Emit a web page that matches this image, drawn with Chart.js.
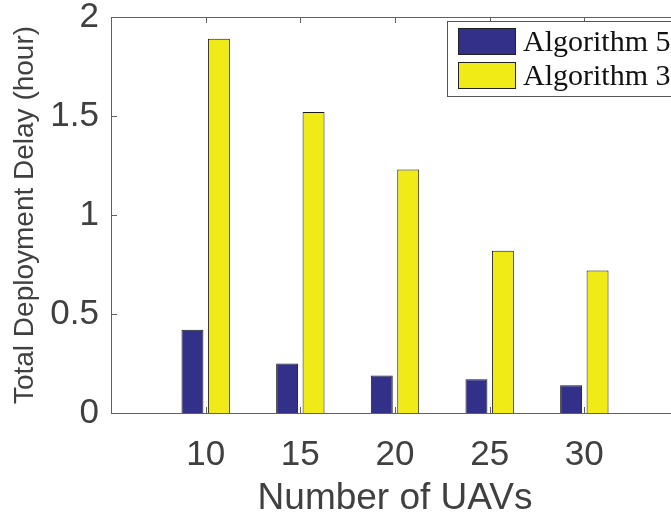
<!DOCTYPE html>
<html>
<head>
<meta charset="utf-8">
<script src="https://cdn.jsdelivr.net/npm/chart.js@4"></script>
<style>
  html, body { margin: 0; padding: 0; background: #fff; overflow: hidden; }
  #wrap { width: 700px; height: 518px; }
</style>
</head>
<body>
<div id="wrap"><canvas id="c" width="700" height="518"></canvas></div>
<script>
// ---- data ----
const categories = [10, 15, 20, 25, 30];
const seriesNames = ['Algorithm 5', 'Algorithm 3'];
const algorithm5 = [0.42, 0.25, 0.19, 0.17, 0.14];
const algorithm3 = [1.89, 1.52, 1.23, 0.82, 0.72];
const yTickValues = [0, 0.5, 1, 1.5, 2];
const yTickLabels = ['0', '0.5', '1', '1.5', '2'];
const xTickLabels = ['10', '15', '20', '25', '30'];
const xTitle = 'Number of UAVs';
const yTitle = 'Total Deployment Delay (hour)';

const colors = ['#33308A', '#F0EA17'];
const axisColor = '#606060';
const textColor = '#404040';

const toPoints = vals => vals.map((v, i) => ({ x: categories[i], y: v }));

const framePlugin = {
  id: 'frame',
  afterDraw(chart) {
    const ctx = chart.ctx;
    const a = chart.chartArea;
    const xs = chart.scales.x, ys = chart.scales.y;
    ctx.save();
    ctx.strokeStyle = axisColor;
    ctx.lineWidth = 1;
    ctx.strokeRect(Math.round(a.left) + 0.5, Math.round(a.top) + 0.5,
                   Math.round(a.right - a.left), Math.round(a.bottom - a.top));
    const tl = 6;
    ctx.beginPath();
    xs.ticks.forEach(t => {
      const px = Math.round(xs.getPixelForValue(t.value)) + 0.5;
      ctx.moveTo(px, a.bottom); ctx.lineTo(px, a.bottom - tl);
      ctx.moveTo(px, a.top); ctx.lineTo(px, a.top + tl);
    });
    ys.ticks.forEach(t => {
      const py = Math.round(ys.getPixelForValue(t.value)) + 0.5;
      ctx.moveTo(a.left, py); ctx.lineTo(a.left + tl, py);
      ctx.moveTo(a.right, py); ctx.lineTo(a.right - tl, py);
    });
    ctx.stroke();

    // legend box
    const lx = 447, ly = 21, lw = 260, lh = 75;
    ctx.fillStyle = '#fff';
    ctx.fillRect(lx, ly, lw, lh);
    ctx.strokeStyle = '#555';
    ctx.strokeRect(lx + 0.5, ly + 0.5, lw, lh);
    ctx.font = '30px "Liberation Serif", serif';
    ctx.textBaseline = 'alphabetic';
    ctx.textAlign = 'left';
    chart.data.datasets.forEach((ds, i) => {
      const sy = 28 + i * 34;
      ctx.fillStyle = ds.backgroundColor;
      ctx.fillRect(458, sy, 57, 26);
      ctx.strokeStyle = '#222';
      ctx.strokeRect(458.5, sy + 0.5, 57, 26);
      ctx.fillStyle = '#111';
      ctx.fillText(ds.label, 523, sy + 23);
    });
    ctx.restore();
  }
};

new Chart(document.getElementById('c'), {
  type: 'bar',
  data: {
    datasets: [
      { label: seriesNames[0], data: toPoints(algorithm5), backgroundColor: colors[0],
        borderColor: '#1a1a1a', borderWidth: 1, categoryPercentage: 0.5585, barPercentage: 0.83 },
      { label: seriesNames[1], data: toPoints(algorithm3), backgroundColor: colors[1],
        borderColor: '#1a1a1a', borderWidth: 1, categoryPercentage: 0.5585, barPercentage: 0.83 }
    ]
  },
  options: {
    responsive: false,
    animation: false,
    devicePixelRatio: 1,
    layout: { padding: { left: 0, right: 21, top: 17, bottom: 0 } },
    plugins: { legend: { display: false }, tooltip: { enabled: false } },
    scales: {
      x: {
        type: 'linear',
        min: 5, max: 35,
        offset: false,
        grid: { display: false, drawTicks: false, offset: false },
        border: { display: false },
        afterBuildTicks: s => { s.ticks = categories.map(v => ({ value: v })); },
        afterFit: s => { s.height = 105; s.paddingLeft = 0; s.paddingRight = 0; },
        ticks: {
          padding: 21,
          color: textColor,
          font: { family: '"Liberation Sans", Arial, sans-serif', size: 35 },
          callback: (v) => xTickLabels[categories.indexOf(v)],
          maxRotation: 0, autoSkip: false
        },
        title: {
          display: true, text: xTitle, color: textColor,
          font: { family: '"Liberation Sans", Arial, sans-serif', size: 37, lineHeight: 1 },
          padding: { top: 0, bottom: 1 }
        }
      },
      y: {
        min: 0, max: 2,
        grid: { display: false, drawTicks: false },
        border: { display: false },
        afterBuildTicks: s => { s.ticks = yTickValues.map(v => ({ value: v })); },
        afterFit: s => { s.width = 111; s.paddingTop = 0; s.paddingBottom = 0; },
        ticks: {
          padding: 12,
          color: textColor,
          font: { family: '"Liberation Sans", Arial, sans-serif', size: 35 },
          callback: (v) => yTickLabels[yTickValues.indexOf(v)]
        },
        title: {
          display: true, text: yTitle, color: textColor,
          font: { family: '"Liberation Sans", Arial, sans-serif', size: 28, lineHeight: 1.2 },
          padding: { top: 8, bottom: 0 }
        }
      }
    }
  },
  plugins: [framePlugin]
});
</script>
</body>
</html>
